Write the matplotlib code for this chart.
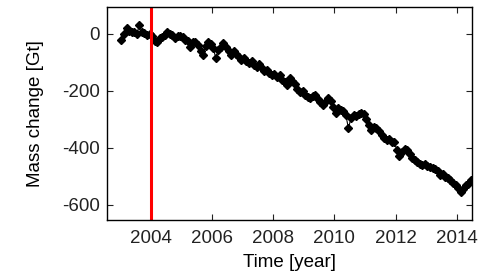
import matplotlib.pyplot as plt
import numpy as np

plt.rcParams["font.family"] = ["Liberation Sans", "DejaVu Sans"]
plt.rcParams["axes.unicode_minus"] = False

YEARS = list(range(2003, 2015))

# monthly mass change [Gt], one list per year
MASS = {
    2003: [-21, 0, 20, 10, 5, 8, 0, 30, 8, 2, -5, -2],
    2004: [-9, -25, -30, -15, -10, -5, 8, 0, -5, -15, -8, -7],
    2005: [-12, -20, -25, -45, -30, -28, -40, -60, -74, -42, -27, -35],
    2006: [-50, -85, -56, -45, -33, -45, -60, -74, -60, -70, -80, -90],
    2007: [-85, -95, -103, -95, -108, -115, -105, -120, -130, -125, -138, -144],
    2008: [-140, -150, -144, -160, -167, -179, -155, -165, -175, -195, -205, -200],
    2009: [-215, -220, -225, -218, -214, -230, -238, -249, -240, -226, -235, -255],
    2010: [-278, -260, -267, -270, -285, -331, -296, -284, -287, -280, -278, -282],
    2011: [-300, -320, -337, -325, -331, -340, -355, -365, -372, -368, -378, -380],
    2012: [-407, -430, -415, -405, -407, -420, -435, -442, -448, -455, -460, -458],
    2013: [-462, -468, -471, -475, -480, -495, -490, -501, -505, -512, -524, -530],
    2014: [-540, -553, -545, -530, -525, -512],
}

EVENT_YEAR = 2004
X_TICKS = [2004, 2006, 2008, 2010, 2012, 2014]
Y_TICKS = [0, -200, -400, -600]


def main():
    t = []
    m = []
    for year in YEARS:
        for i, value in enumerate(MASS[year]):
            t.append(year + (i + 0.5) / 12)
            m.append(value)

    fig = plt.figure(figsize=(4.81, 2.74), dpi=100)
    ax = fig.add_axes([0.2225, 0.197, 0.759, 0.778])
    ax.plot(t, m, color="black", linewidth=0.8, marker="D", markersize=4,
            markerfacecolor="black", markeredgecolor="black")
    ax.axvline(EVENT_YEAR, color="red", linewidth=2.2)

    ax.set_xlim(2002.57, 2014.5)
    ax.set_ylim(-653, 95)
    ax.set_xticks(X_TICKS)
    ax.set_yticks(Y_TICKS)
    ax.tick_params(direction="in", top=True, right=True, length=4, width=0.8,
                   labelsize=13.5, colors="#222222")
    ax.tick_params(axis="x", pad=7)
    ax.tick_params(axis="y", pad=5)
    for spine in ax.spines.values():
        spine.set_linewidth(1.0)
    ax.set_xlabel("Time [year]", fontsize=13.5, labelpad=5)
    ax.set_ylabel("Mass change [Gt]", fontsize=13.5, labelpad=13)

    fig.savefig("out.png", dpi=100)
    plt.close(fig)


if __name__ == "__main__":
    main()
